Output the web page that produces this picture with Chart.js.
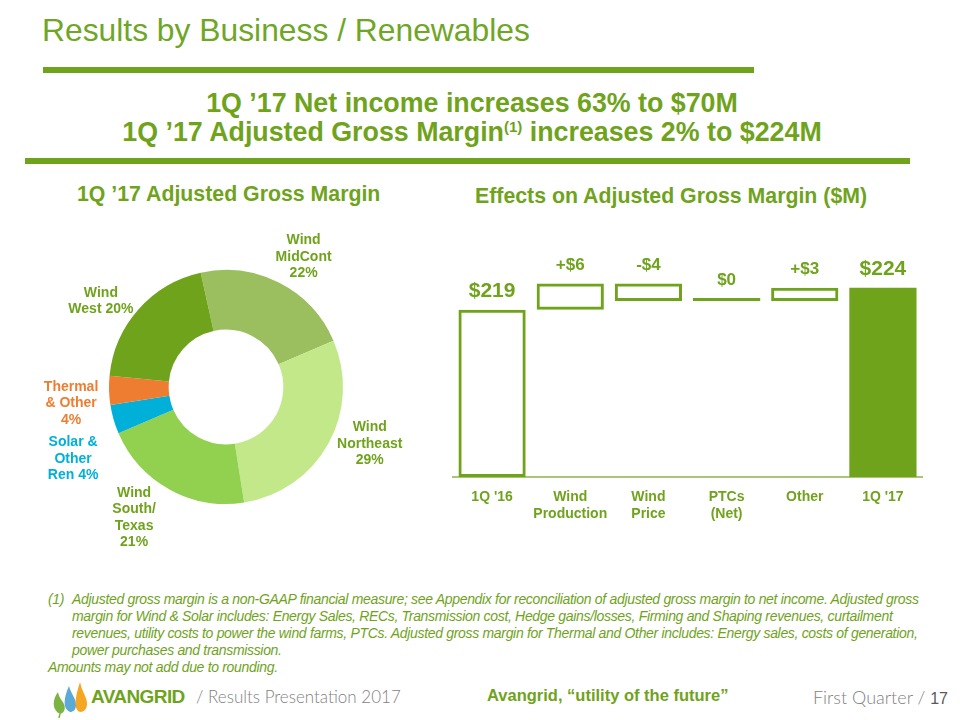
<!DOCTYPE html>
<html>
<head>
<meta charset="utf-8">
<script src="https://cdn.jsdelivr.net/npm/chart.js@4.4.0/dist/chart.umd.min.js"></script>
<style>
  body { margin: 0; background: #fff; }
  #page { position: relative; width: 960px; height: 720px; overflow: hidden; font-family: "Liberation Sans", Arial, sans-serif; color: #6fa31c; }
  .abs { position: absolute; white-space: nowrap; }
  #title { left: 42px; top: 12px; font-size: 31.8px; color: #70a626; }
  .rule { position: absolute; height: 6px; background: #6fa31c; }
  .headline { left: 0; width: 944px; text-align: center; font-weight: bold; font-size: 26.8px; }
  .headline sup { font-size: 15px; vertical-align: 9px; line-height: 0; }
  .sub { font-weight: bold; font-size: 21.3px; }
  #foot { left: 48px; top: 591px; font-size: 14px; font-style: italic; line-height: 17px; letter-spacing: -0.32px; }
  #foot .item { padding-left: 24px; }
  #foot .num { position: absolute; left: 0; }
  #chartDonut { position: absolute; left: 20px; top: 215px; }
  #chartBars { position: absolute; left: 440px; top: 213px; }
</style>
</head>
<body>
<div id="page">
  <div id="title" class="abs">Results by Business / Renewables</div>
  <div class="rule" style="left:43px; top:67px; width:711px;"></div>
  <div class="abs headline" style="top:88px;">1Q ’17 Net income increases 63% to $70M</div>
  <div class="abs headline" style="top:117px;">1Q ’17 Adjusted Gross Margin<sup>(1)</sup> increases 2% to $224M</div>
  <div class="rule" style="left:25px; top:158px; width:885px;"></div>

  <div class="abs sub" style="left:77px; top:182px;">1Q ’17 Adjusted Gross Margin</div>
  <div class="abs sub" style="left:475px; top:184px;">Effects on Adjusted Gross Margin ($M)</div>

  <canvas id="chartDonut" width="412" height="344"></canvas>
  <canvas id="chartBars" width="494" height="317"></canvas>

  <div id="foot" class="abs">
    <div class="item"><span class="num">(1)</span>Adjusted gross margin is a non-GAAP financial measure; see Appendix for reconciliation of adjusted gross margin to net income. Adjusted gross<br>margin for Wind &amp; Solar includes: Energy Sales, RECs, Transmission cost, Hedge gains/losses, Firming and Shaping revenues, curtailment<br>revenues, utility costs to power the wind farms, PTCs. Adjusted gross margin for Thermal and Other includes: Energy sales, costs of generation,<br>power purchases and transmission.</div>
    <div>Amounts may not add due to rounding.</div>
  </div>

  <svg class="abs" style="left:50px; top:680px;" width="40" height="38" viewBox="0 0 40 38">
    <path d="M10 34 C2 30 2 20 8 12 C9 18 12 20 14 24 C16 29 14 33 10 34 Z" fill="#7cb342"/>
    <path d="M10 34 L9 38" stroke="#7cb342" stroke-width="1.5"/>
    <path d="M20 32 C13 29 13 19 19 6 C21 14 26 18 26 25 C26 30 23 32 20 32 Z" fill="#5aa9d6"/>
    <path d="M30 32 C24 30 24 20 30 2 C32 12 37 17 37 24 C37 29 34 32 30 32 Z" fill="#f5a623"/>
  </svg>
  <div class="abs" style="left:91px; top:686px; font-size:19px; font-weight:bold; color:#6fa31c; letter-spacing:-0.6px;">AVANGRID</div>
  <div class="abs" style="left:196px; top:686px; font-family:Lato, sans-serif; font-weight:300; font-size:17px; color:#7f7f7f;">/ Results Presentation 2017</div>
  <div class="abs" style="left:487px; top:686px; font-size:16.5px; font-weight:bold; color:#6fa31c;">Avangrid, “utility of the future”</div>
  <div class="abs" style="left:813px; top:686px; font-family:Lato, sans-serif; font-weight:300; font-size:18px; color:#7f7f7f;">First Quarter / <b style="font-family:'Liberation Sans'; font-size:16px; color:#595959;">17</b></div>
</div>

<script>
// ----- donut data -----
var segNames = [["Wind", "MidCont"], ["Wind", "Northeast"], ["Wind", "South/", "Texas"], ["Solar &", "Other", "Ren"], ["Thermal", "& Other"], ["Wind", "West"]];
var segShares = [22, 29, 21, 4, 4, 20];
var segColors = ["#9bbf5f", "#c3e88a", "#92d04f", "#00b0d8", "#ee7d31", "#6fa31c"];
var segTextColors = ["#6fa31c", "#6fa31c", "#6fa31c", "#00b0d8", "#ee7d31", "#6fa31c"];
var pctSameLine = [false, false, false, true, false, true];
var labelNudge = [[7, 8], [8, -18], [-17, -5], [-4, 29], [0, 12], [-9, 17]];

// ----- waterfall data -----
var steps = ["1Q '16", "Wind Production", "Wind Price", "PTCs (Net)", "Other", "1Q '17"];
var startValue = 219;
var changes = [6, -4, 0, 3];
var endValue = 224;
var axisFloor = 181;

var green = "#6fa31c";

var donutLabels = {
    id: 'donutLabels',
    afterDatasetsDraw: function (chart) {
        var ctx = chart.ctx;
        var arcs = chart.getDatasetMeta(0).data;
        ctx.save();
        ctx.font = "bold 14px 'Liberation Sans', Arial, sans-serif";
        ctx.textAlign = "center";
        ctx.textBaseline = "middle";
        arcs.forEach(function (arc, i) {
            var p = arc.getProps(['x', 'y', 'startAngle', 'endAngle', 'outerRadius']);
            var mid = (p.startAngle + p.endAngle) / 2;
            var r = p.outerRadius + 38;
            var cx = p.x + Math.cos(mid) * r + labelNudge[i][0];
            var cy = p.y + Math.sin(mid) * r + labelNudge[i][1];
            var lines = segNames[i].slice();
            var pct = segShares[i] + "%";
            if (pctSameLine[i]) lines[lines.length - 1] += " " + pct;
            else lines.push(pct);
            var lh = 16.5;
            var y0 = cy - (lines.length - 1) * lh / 2;
            ctx.fillStyle = segTextColors[i];
            lines.forEach(function (t, k) { ctx.fillText(t, cx, y0 + k * lh); });
        });
        ctx.restore();
    }
};

new Chart(document.getElementById("chartDonut"), {
    type: 'doughnut',
    data: {
        labels: segNames.map(function (n) { return n.join(" "); }),
        datasets: [{
            data: segShares,
            backgroundColor: segColors,
            borderWidth: 0
        }]
    },
    options: {
        responsive: false,
        animation: false,
        rotation: -12.5,
        cutout: '49%',
        layout: { padding: 55 },
        plugins: { legend: { display: false }, tooltip: { enabled: false } }
    },
    plugins: [donutLabels]
});

// floating ranges for the waterfall
var ranges = [[axisFloor, startValue]];
var running = startValue;
changes.forEach(function (c) {
    ranges.push([running, running + c]);
    running += c;
});
ranges.push([axisFloor, endValue]);

var valueText = [ "$" + startValue ].concat(changes.map(function (c) {
    return c > 0 ? "+$" + c : (c < 0 ? "-$" + Math.abs(c) : "$0");
})).concat([ "$" + endValue ]);

var barLabels = {
    id: 'barLabels',
    afterDatasetsDraw: function (chart) {
        var ctx = chart.ctx;
        var bars = chart.getDatasetMeta(0).data;
        ctx.save();
        ctx.fillStyle = green;
        ctx.textAlign = "center";
        ctx.textBaseline = "middle";
        bars.forEach(function (bar, i) {
            var top = Math.min(bar.y, bar.base);
            var total = (i === 0 || i === bars.length - 1);
            ctx.font = "bold " + (total ? 21 : 17) + "px 'Liberation Sans', Arial, sans-serif";
            ctx.fillText(valueText[i], bar.x, top - (total ? 19 : 18));
        });
        ctx.restore();
    }
};

new Chart(document.getElementById("chartBars"), {
    type: 'bar',
    data: {
        labels: steps.map(function (s) { return s.indexOf("1Q") === 0 ? s : s.split(" "); }),
        datasets: [{
            data: ranges,
            backgroundColor: ranges.map(function (r, i) {
                return (i === ranges.length - 1 || r[0] === r[1]) ? green : "rgba(255,255,255,0)";
            }),
            borderColor: green,
            borderWidth: ranges.map(function (r, i) { return (i === ranges.length - 1 || r[0] === r[1]) ? 0 : 3; }),
            borderSkipped: false,
            minBarLength: 3,
            barPercentage: 0.86,
            categoryPercentage: 1
        }]
    },
    options: {
        responsive: false,
        animation: false,
        layout: { padding: { left: 13, right: 12, top: 0, bottom: 0 } },
        scales: {
            x: {
                grid: { display: false, drawTicks: false },
                border: { display: true, color: "#a9c47c", width: 2 },
                ticks: {
                    color: green, padding: 12, maxRotation: 0, minRotation: 0, autoSkip: false,
                    font: { family: "'Liberation Sans', Arial, sans-serif", size: 14, weight: 'bold' }
                },
                afterFit: function (scale) { scale.height = 53; }
            },
            y: { display: false, min: axisFloor, max: 241 }
        },
        plugins: { legend: { display: false }, tooltip: { enabled: false } }
    },
    plugins: [barLabels]
});
</script>
</body>
</html>
